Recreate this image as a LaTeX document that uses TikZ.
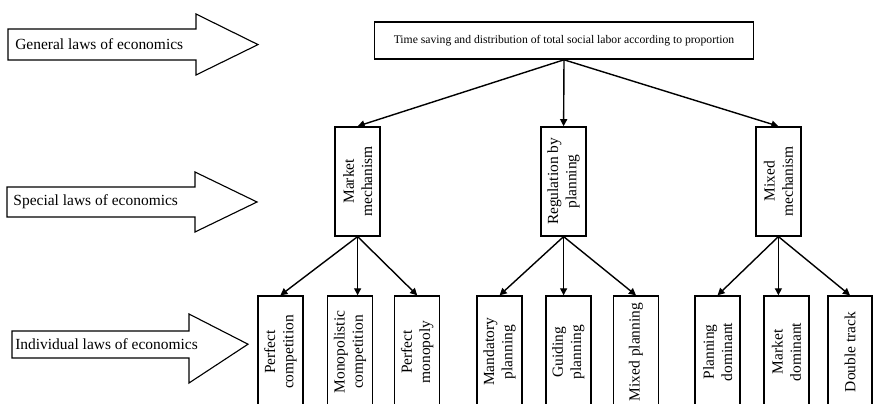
\documentclass[tikz,border=0pt]{standalone}
\usepackage{fontspec}
\setmainfont{Liberation Serif}
\usetikzlibrary{arrows.meta}
\tikzset{
  lawbox/.style={draw, line width=1pt, rotate=90, minimum width=2.8cm, minimum height=1.125cm, align=center, inner sep=1pt},
  lawlink/.style={line width=1pt, -{Triangle[length=5pt,width=5pt]}},
  bigarrow/.style={draw, line width=0.8pt}
}
\begin{document}
\begin{tikzpicture}[font=\fontsize{11}{13}\selectfont]
  \clip (0,0) rectangle (21.825,10.075);
  %Big arrows on the left
  \draw[bigarrow] (0.2,9.35) -- (4.9,9.35) -- (4.9,9.725) -- (6.45,8.96) -- (4.9,8.2) -- (4.9,8.575) -- (0.2,8.575) -- cycle;
  \node[anchor=west, inner sep=0pt] (general) at (0.375,8.96) {General laws of economics};
  \draw[bigarrow] (0.175,5.4) -- (4.875,5.4) -- (4.875,5.775) -- (6.425,5.025) -- (4.875,4.275) -- (4.875,4.65) -- (0.175,4.65) -- cycle;
  \node[anchor=west, inner sep=0pt] (special) at (0.33,5.025) {Special laws of economics};
  \draw[bigarrow] (0.3,1.8) -- (4.725,1.8) -- (4.725,2.225) -- (6.2,1.47) -- (4.725,0.5) -- (4.725,1.125) -- (0.3,1.125) -- cycle;
  \node[anchor=west, inner sep=0pt] (individual) at (0.375,1.48) {Individual laws of economics};
  %Top box
  \node[draw, line width=1pt, minimum width=9.475cm, minimum height=0.925cm, font=\fontsize{8.3}{10}\selectfont] (top) at (14.1,9.06) {Time saving and distribution of total social labor according to proportion};
  %Special laws
  \node[lawbox, minimum width=2.725cm] (market) at (8.94,5.54) {Market\\mechanism};
  \node[lawbox, minimum width=2.725cm] (reg) at (14.09,5.54) {Regulation by\\planning};
  \node[lawbox, minimum width=2.725cm] (mix) at (19.46,5.54) {Mixed\\mechanism};
  \draw[lawlink] (top.south) -- (market.east);
  \draw[lawlink] (top.south) -- (reg.east);
  \draw[lawlink] (top.south) -- (mix.east);
  %Individual laws
  \node[lawbox] (pc) at (7.01,1.275) {Perfect\\competition};
  \node[lawbox] (mc) at (8.75,1.275) {Monopolistic\\competition};
  \node[lawbox] (pm) at (10.43,1.275) {Perfect\\monopoly};
  \node[lawbox] (mand) at (12.49,1.275) {Mandatory\\planning};
  \node[lawbox] (guid) at (14.21,1.275) {Guiding\\planning};
  \node[lawbox] (mixp) at (15.9,1.275) {Mixed planning};
  \node[lawbox] (pd) at (17.94,1.275) {Planning\\dominant};
  \node[lawbox] (md) at (19.66,1.275) {Market\\dominant};
  \node[lawbox, minimum height=1.1cm] (dt) at (21.25,1.275) {Double track};
  %Market mechanism
  \draw[lawlink] (market.west) -- (pc.east);
  \draw[lawlink] (market.west) -- (market.west |- mc.east);
  \draw[lawlink] (market.west) -- (pm.east);
  %Regulation by planning
  \draw[lawlink] (reg.west) -- (mand.east);
  \draw[lawlink] (reg.west) -- (reg.west |- guid.east);
  \draw[lawlink] (reg.west) -- (mixp.east);
  %Mixed mechanism
  \draw[lawlink] (mix.west) -- (pd.east);
  \draw[lawlink] (mix.west) -- (mix.west |- md.east);
  \draw[lawlink] (mix.west) -- (dt.east);
\end{tikzpicture}
\end{document}
